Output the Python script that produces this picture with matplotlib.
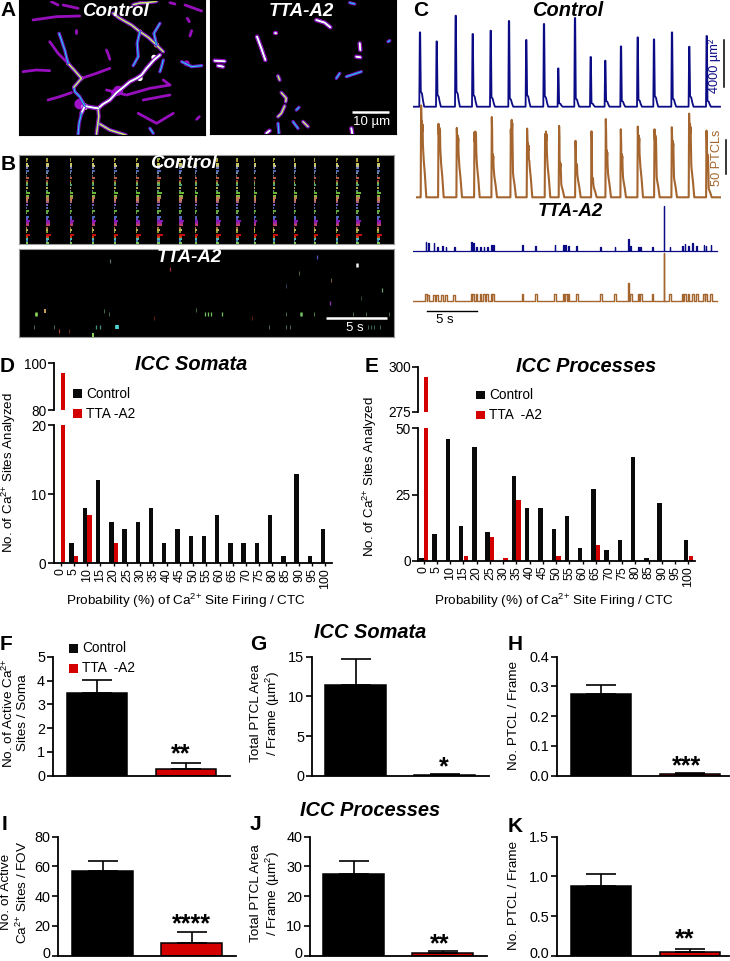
import matplotlib
matplotlib.use("Agg")
import matplotlib.pyplot as plt
from matplotlib.transforms import ScaledTranslation
import numpy as np

plt.rcParams['font.family'] = ['Liberation Sans', 'DejaVu Sans']
plt.rcParams['mathtext.fontset'] = 'custom'
plt.rcParams['mathtext.rm'] = 'Liberation Sans'
plt.rcParams['mathtext.default'] = 'regular'

W, H = 730, 961
BLUE = '#0b0b85'
BROWN = '#a5652f'
RED = '#d40000'

# panel C, control (seconds, um2 and particle counts)
blue_t = [0.7, 2.37, 4.27, 5.97, 7.77, 9.6, 11.33, 13.1, 14.53, 16.2, 17.77, 19.23, 20.8, 22.47, 24.1, 25.9, 27.63, 29.37]
blue_h = [6315, 5550, 7735, 6180, 6460, 7285, 5670, 7030, 3255, 7540, 4225, 3910, 5125, 5890, 5720, 6315, 5100, 6010]
blue_s = [1300, 1000, 1300, 1000, 800, 700, 1000, 900, 300, 700, 300, 500, 500, 600, 900, 700, 900, 500]
brown_t = [0.83, 2.57, 4.4, 6.17, 7.9, 9.8, 11.43, 13.23, 14.63, 16.27, 17.87, 19.3, 20.8, 22.5, 24.17, 25.9, 27.63, 29.37]
brown_h = [135, 108, 102, 96, 118, 100, 101, 93, 105, 83, 97, 115, 100, 104, 100, 103, 123, 98]
brown_m1 = [97, 89, 79, 84, 55, 99, 69, 84, 45, 43, 25, 60, 55, 79, 79, 72, 94, 55]
brown_m2 = [55, 50, 45, 45, 30, 30, 45, 45, 16, 25, 13, 30, 25, 45, 25, 25, 40, 11]

# panel C, TTA-A2
tta_t = [1.3, 1.53, 2.1, 2.43, 2.93, 3.3, 4.13, 5.87, 6.03, 6.37, 6.77, 7.1, 7.43, 7.87, 8.03, 10.93, 12.27, 14.2, 15.03,
         15.27, 15.53, 16.37, 18.77, 20.2, 21.53, 21.77, 22.53, 22.77, 23.93, 25.1, 25.7, 26.93, 27.2, 27.53, 27.97, 28.37,
         29.1, 29.3, 29.8]
tta_blue = [765, 623, 623, 340, 397, 283, 340, 708, 623, 340, 340, 340, 340, 482, 482, 482, 425, 482, 482,
            482, 397, 397, 340, 340, 992, 397, 340, 340, 340, 3825, 340, 397, 567, 397, 623, 397,
            482, 397, 482]
tta_brown = [10, 9, 9, 9, 9, 9, 9, 10, 10, 10, 10, 10, 10, 10, 10, 10, 10, 10, 10,
             10, 10, 10, 10, 10, 27, 10, 10, 10, 10, 71, 10, 10, 10, 10, 10, 10,
             10, 10, 10]

# histograms D and E
prob_labels = ['0', '5', '10', '15', '20', '25', '30', '35', '40', '45', '50', '55', '60', '65', '70', '75', '80', '85', '90', '95', '100']
d_control = [0, 3, 8, 12, 6, 5, 6, 8, 3, 5, 4, 4, 7, 3, 3, 3, 7, 1, 13, 1, 5]
d_tta = [96, 1, 7, 0, 3, 0, 0, 0, 0, 0, 0, 0, 0, 0, 0, 0, 0, 0, 0, 0, 0]
e_control = [1, 10, 46, 13, 43, 11, 0, 32, 20, 20, 12, 17, 5, 27, 4, 8, 39, 1, 22, 0, 8]
e_tta = [294, 0, 0, 2, 0, 9, 1, 23, 0, 0, 2, 0, 0, 6, 0, 0, 0, 0, 0, 0, 2]

# bar panels F-K: control, tta means and error tops
f_vals, f_err = [3.46, 0.3], [0.55, 0.25]
g_vals, g_err = [11.4, 0.12], [3.26, 0.08]
h_vals, h_err = [0.273, 0.005], [0.031, 0.004]
i_vals, i_err = [56.9, 8.7], [7.0, 7.0]
j_vals, j_err = [27.6, 0.75], [4.3, 0.7]
k_vals, k_err = [0.878, 0.05], [0.147, 0.04]

a_control = [
    (2, [340, 355, 372, 395, 420, 445, 470, 490], [40, 52, 62, 75, 95, 112, 135, 155]),
    (2, [400, 420, 440, 470], [14, 9, 8, 4]),
    (1, [470, 462, 480], [135, 100, 70]),
    (1, [420, 412, 415, 400], [95, 130, 170, 197]),
    (3, [480, 462, 440, 425, 410, 390, 370, 350, 330, 310, 295], [165, 180, 205, 225, 235, 245, 262, 278, 300, 312, 325]),
    (2, [295, 297, 293, 290], [325, 350, 380, 403]),
    (1, [490, 485, 480], [180, 200, 215]),
    (3, [295, 275, 255, 245], [325, 322, 318, 340]),
    (1, [245, 238, 235], [340, 370, 403]),
    (1, [255, 240, 225, 222], [318, 290, 275, 262]),
    (2, [222, 245, 225, 205], [262, 235, 212, 190]),
    (1, [205, 195, 185, 178], [190, 150, 120, 100]),
    (0, [245, 290, 330], [235, 220, 205]),
    (0, [70, 110, 150], [215, 210, 212]),
    (0, [205, 175, 150], [190, 160, 125]),
    (0, [320, 326, 330], [150, 165, 178]),
    (1, [545, 575, 605], [185, 200, 197]),
    (2, [300, 330, 378], [372, 390, 405]),
    (0, [145, 180, 215], [300, 290, 278]),
    (0, [320, 380, 450, 510], [270, 285, 265, 255]),
    (0, [415, 470, 520], [340, 370, 340]),
    (0, [100, 170, 240], [60, 50, 48]),
    (0, [155, 175], [5, 15]),
    (0, [190, 235], [15, 25]),
    (0, [510, 525], [8, 12]),
    (0, [555, 605], [15, 33]),
    (0, [562, 568], [55, 65]),
    (0, [570, 575], [108, 92]),
    (0, [590, 598], [358, 350]),
    (0, [490, 510], [240, 255]),
    (0, [228, 228], [90, 98]),
    (1, [450, 460], [385, 400]),
    (0, [430, 510], [300, 285]),
]
a_tta = [
    (3, [772, 785, 797], [110, 145, 180]),
    (3, [950, 975, 992], [60, 68, 82]),
    (3, [645, 675], [182, 184]),
    (3, [655, 670], [197, 200]),
    (3, [825, 830], [98, 98]),
    (3, [1080, 1082], [130, 150]),
    (3, [1070, 1082], [170, 172]),
    (2, [835, 840], [228, 240]),
    (2, [845, 860, 858], [278, 295, 305]),
    (2, [855, 845, 835], [318, 340, 350]),
    (1, [890, 898], [330, 322]),
    (1, [1010, 1020], [235, 220]),
    (1, [1040, 1085], [230, 215]),
    (1, [880, 895], [365, 385]),
    (2, [910, 925], [365, 380]),
    (3, [800, 810], [400, 392]),
    (3, [1055, 1058], [385, 402]),
    (1, [1165, 1170], [125, 122]),
    (1, [835, 838], [370, 402]),
    (1, [1050, 1065], [8, 12]),
]
# bright and purple blobs in the control micrograph
blob_x = [355, 240, 345, 470, 420, 205, 245, 255, 295, 462, 420, 560]
blob_y = [272, 312, 278, 135, 95, 190, 235, 320, 325, 172, 235, 190]
blob_s = [50, 60, 30, 14, 10, 9, 10, 24, 10, 14, 16, 18]
blob_c = ['#a010c8', '#a010c8', '#a010c8', '#e0e060', '#f0b060', '#f0b060', '#e0e060', '#ffffff', '#ffffff', '#ffffff', '#ffffff', '#a010c8']

# rasters in B
burst_x = [82, 143, 213, 279, 345, 412, 476, 541, 590, 653, 712, 765, 822, 885, 945, 1012, 1072, 1136]
burst_gain = [1.0, 1.0, 1.0, 1.1, 1.1, 1.1, 1.3, 1.3, 0.7, 1.1, 1.2, 0.8, 1.2, 1.0, 1.0, 1.0, 1.3, 1.0]
row_y = [477, 484, 491, 497, 505, 512, 520, 527, 535, 542, 548, 555, 565, 572, 580, 587, 593, 600, 606, 615, 624, 632, 640, 650,
         657, 664, 670, 676, 683, 690, 697, 705, 711, 716, 722, 729]
row_c = ['#b6d850', '#d8b040', '#f0f070', '#f0e8a0', '#8090e0', '#5a80d8', '#88a8c0', '#607090', '#e07050', '#c05040', '#a0d050',
         '#60c090', '#d8d060', '#70b090', '#80e040', '#a0e050', '#f09070', '#e8a060', '#d070a0', '#9070e0', '#5a80d8', '#70d040',
         '#80c070', '#6080e0', '#8060e0', '#a020e0', '#c030c0', '#e05080', '#d08040', '#e0e060', '#a0c040', '#f01010', '#f05010',
         '#60e0e0', '#5090d0', '#90f060']
row_w = [5, 4, 7, 8, 6, 8, 4, 3, 8, 5, 5, 6, 5, 4, 11, 9, 9, 7, 7, 5, 4, 8, 4, 8, 6, 12, 10, 10, 4, 6, 4, 13, 7, 7, 5, 7]
raster_x = [330, 107, 134, 313, 327, 103, 163, 177, 208, 278, 287, 300, 352, 464, 512, 588, 617, 625, 635, 668, 757, 808, 858, 870,
            858, 858, 898, 905, 945, 952, 995, 993, 1072, 1085, 1148, 1060, 1100, 1168, 1105, 1115, 1125, 1142]
raster_y = [783, 942, 932, 932, 942, 980, 980, 993, 993, 1005, 980, 980, 980, 955, 807, 930, 942, 942, 942, 942, 955, 980, 980, 980,
            942, 857, 820, 942, 942, 770, 840, 910, 795, 895, 870, 942, 942, 942, 980, 980, 980, 980]
raster_c = ['#607060', '#90e060', '#d0a060', '#70a070', '#70a070', '#70a090', '#70a090', '#a04030', '#a04030', '#90e060', '#409080',
            '#409080', '#50d0d0', '#a03020', '#a03040', '#70a070', '#70c060', '#70c060', '#70c060', '#70c060', '#a03020', '#70a090',
            '#70a090', '#70a090', '#70a070', '#5060a0', '#80a070', '#70c060', '#70c060', '#5050b0', '#c0a060', '#9030c0', '#f0f0f0',
            '#507050', '#70a070', '#70a070', '#70a070', '#70a070', '#60a090', '#60a090', '#60a090', '#60a090']
raster_w = [2, 4, 3, 1, 1, 1, 1, 2, 1, 3, 2, 2, 6, 1, 2, 1, 2, 2, 2, 2, 1, 1, 1, 1, 1, 1, 1, 4, 1, 2, 1, 2, 4, 1, 2, 1, 1, 1, 1, 1, 1, 1]

fig = plt.figure(figsize=(W / 100, H / 100), dpi=100, facecolor='white')


def px_axes(x0, y0, x1, y1, **kw):
    return fig.add_axes([x0 / W, 1 - y1 / H, (x1 - x0) / W, (y1 - y0) / H], **kw)


def image_panel(x0, y0, x1, y1, zx0, zy0, zx1, zy1, edge='black'):
    ax = px_axes(x0, y0, x1, y1, facecolor='black')
    ax.set_xlim(zx0, zx1)
    ax.set_ylim(zy1, zy0)
    ax.set_xticks([])
    ax.set_yticks([])
    for s in ax.spines.values():
        s.set_color(edge)
        s.set_linewidth(0.8)
    return ax


def draw_branches(ax, branches):
    for level, xs, ys in branches:
        ax.plot(xs, ys, color='#a010c8', lw=2.0 + 0.4 * level, solid_capstyle='round', alpha=0.95)
    for level, xs, ys in branches:
        if level >= 1:
            ax.plot(xs, ys, color='#2040e0', lw=1.5, solid_capstyle='round')
            ax.plot(xs, ys, color='#40d0e0', lw=0.7, solid_capstyle='round')
        if level >= 2:
            ax.plot(xs, ys, color='#e0e060', lw=1.0, solid_capstyle='round')
        if level >= 3:
            ax.plot(xs, ys, color='#ffffff', lw=1.2, solid_capstyle='round')


def trace_axes(top, bottom, base, per_px):
    ax = px_axes(413, top, 721, bottom)
    ax.set_xlim(0, 30.8)
    ax.set_ylim(-(bottom - base) * per_px, (base - top) * per_px)
    ax.axis('off')
    ax.patch.set_alpha(0)
    return ax


def blue_wave(ts, hs, ss):
    x, y = [0.0], [0.0]
    for t, h, s in zip(ts, hs, ss):
        x += [t - 0.07, t - 0.02, t + 0.02, t + 0.08, t + 0.2, t + 0.3, t + 0.42]
        y += [0, h, h, s, s * 0.85, s * 0.4, 0]
    x.append(30.7)
    y.append(0)
    return x, y


def brown_wave(ts, hs, m1, m2):
    x, y = [0.4], [0.0]
    for t, h, a, b in zip(ts, hs, m1, m2):
        x += [t - 0.06, t - 0.02, t + 0.01, t + 0.04, t + 0.07, t + 0.1, t + 0.13, t + 0.16, t + 0.2, t + 0.24, t + 0.36, t + 0.5]
        y += [0, h, h * 0.85, a * 1.05, a * 1.15, a, a * 1.1, a * 0.8, b * 1.2, b, b * 0.6, 0]
    x.append(30.7)
    y.append(0)
    return x, y


def tta_wave(ts, hs, narrow, wide, tall):
    x, y = [0.0], [0.0]
    for t, h in zip(ts, hs):
        half = narrow if h >= tall else wide
        x += [t - half, t - half, t + half, t + half]
        y += [0, h, h, 0]
    x.append(30.4)
    y.append(0)
    return x, y


def histogram(x0, x1, base, low_top, up_bot, up_top, ylow, yup, xleft, ctrl, tta, low_ticks, up_ticks):
    up = px_axes(x0, up_top, x1, up_bot)
    low = px_axes(x0, low_top, x1, base)
    idx = np.arange(len(ctrl))
    for ax in (up, low):
        ax.bar(idx - 0.175, ctrl, 0.33, color='#0a0a0a')
        ax.bar(idx + 0.175, tta, 0.33, color=RED)
        ax.set_xlim(xleft, 20.5)
        ax.patch.set_alpha(0)
        for s in ('top', 'right'):
            ax.spines[s].set_visible(False)
        ax.spines['left'].set_linewidth(1.3)
        ax.tick_params(axis='y', length=4.5, width=1.2, labelsize=9.8, pad=1)
    up.set_ylim(*yup)
    up.spines['bottom'].set_visible(False)
    up.set_xticks([])
    up.set_yticks(up_ticks)
    low.set_ylim(*ylow)
    low.set_yticks(low_ticks)
    low.spines['bottom'].set_linewidth(1.3)
    low.set_xticks(idx)
    low.set_xticklabels(prob_labels, rotation=90, fontsize=8.9)
    low.tick_params(axis='x', length=2.5, width=1, pad=1)


def bar_panel(x0, x1, top, base, ymax, yticks, fmt, left_center, vals, errs):
    ax = px_axes(x0, top, x1, base)
    ax.set_xlim((x0 - left_center) / 89, (x1 - left_center) / 89)
    ax.set_ylim(0, ymax)
    ax.bar([0, 1], vals, 0.68, color=['black', RED], edgecolor='black', linewidth=1.1)
    ax.errorbar([0, 1], vals, yerr=[[0, 0], errs], fmt='none', ecolor='black', elinewidth=1.2, capsize=11, capthick=1.2)
    ax.set_xticks([])
    ax.set_yticks(yticks)
    ax.set_yticklabels([fmt % t for t in yticks])
    ax.tick_params(axis='y', length=4.5, width=1.2, labelsize=10.4, pad=1)
    for s in ('top', 'right'):
        ax.spines[s].set_visible(False)
    ax.spines['left'].set_linewidth(1.3)
    ax.spines['bottom'].set_linewidth(1.3)
    ax.patch.set_alpha(0)
    return ax


def lift_zero_label(ax, pts):
    # the bottom row sits on the picture edge, nudge its 0 up so it stays inside
    label = ax.get_yticklabels()[0]
    label.set_transform(label.get_transform() + ScaledTranslation(0, pts / 72, fig.dpi_scale_trans))


# A
ax_a1 = image_panel(19, 0, 205, 135, 58, 0, 615, 405)
draw_branches(ax_a1, a_control)
ax_a1.scatter(blob_x, blob_y, s=blob_s, c=blob_c, linewidths=0, zorder=1.5)
ax_a2 = image_panel(210, 0, 396, 134, 631, 0, 1189, 402)
draw_branches(ax_a2, a_tta)

# B
ax_b1 = image_panel(19, 154.7, 394, 243.7, 57, 464, 1182, 731, edge='#999999')
for bx, gain in zip(burst_x, burst_gain):
    for ry, rc, rw in zip(row_y, row_c, row_w):
        ax_b1.plot([bx - 4, bx - 4 + rw * gain], [ry, ry], color=rc, lw=1.4, alpha=0.85, solid_capstyle='butt')
ax_b2 = image_panel(19, 248.7, 394, 337.3, 57, 746, 1184, 1012, edge='#999999')
for rx, ry, rc, rw in zip(raster_x, raster_y, raster_c, raster_w):
    ax_b2.plot([rx, rx], [ry - 6, ry + 6], color=rc, lw=rw * 0.45, solid_capstyle='butt')

# C
ax = trace_axes(10, 110, 106.7, 85)
ax.plot(*blue_wave(blue_t, blue_h, blue_s), color=BLUE, lw=1.3)
ax = trace_axes(100, 200, 197.3, 1.47)
ax.plot(*brown_wave(brown_t, brown_h, brown_m1, brown_m2), color=BROWN, lw=1.5)
ax = trace_axes(200, 255, 250.7, 85)
ax.plot(*tta_wave(tta_t, tta_blue, 0.03, 0.04, 900), color=BLUE, lw=0.9)
ax = trace_axes(245, 305, 301, 1.47)
ax.plot(*tta_wave(tta_t, tta_brown, 0.03, 0.08, 20), color=BROWN, lw=1.0)

# D, E
histogram(54, 332, 563.3, 425.3, 410, 363.3, (0, 20), (80, 100), -0.507, d_control, d_tta, [0, 10, 20], [80, 100])
histogram(418.3, 695, 561, 428.3, 411.7, 366.7, (0, 50), (275, 300), -0.41, e_control, e_tta, [0, 25, 50], [275, 300])

# F-K
bar_panel(52.7, 230, 656.7, 775.7, 5, [0, 1, 2, 3, 4, 5], '%d', 97, f_vals, f_err)
bar_panel(311.7, 489, 656.7, 775.7, 15, [0, 5, 10, 15], '%d', 355.5, g_vals, g_err)
bar_panel(556.7, 729, 656.7, 775.7, 0.4, [0, 0.1, 0.2, 0.3, 0.4], '%.1f', 601, h_vals, h_err)
ax_i = bar_panel(58, 236, 836.7, 955.7, 80, [0, 20, 40, 60, 80], '%d', 102.7, i_vals, i_err)
ax_j = bar_panel(310, 487, 836.7, 955.7, 40, [0, 10, 20, 30, 40], '%d', 353.7, j_vals, j_err)
ax_k = bar_panel(556.7, 729, 836.7, 955.7, 1.5, [0, 0.5, 1.0, 1.5], '%.1f', 601, k_vals, k_err)
for bottom_ax in (ax_i, ax_j, ax_k):
    lift_zero_label(bottom_ax, 2.5)

# overlay in figure pixels for text, legends and scale bars
ov = px_axes(0, 0, W, H)
ov.set_xlim(0, W)
ov.set_ylim(H, 0)
ov.axis('off')
ov.patch.set_alpha(0)


def txt(x, y, s, size=9.8, color='black', ha='center', rot=0, weight='normal', style='normal', lsp=1.15):
    ov.text(x, y, s, fontsize=size, color=color, ha=ha, va='center', rotation=rot, fontweight=weight,
            fontstyle=style, linespacing=lsp, rotation_mode='anchor' if rot == 0 else 'default', multialignment='center')


def head(x, y, s, size=14.4, color='black'):
    txt(x, y, s, size=size, color=color, weight='bold', style='italic')


def legend(sx, tx, y1, y2, s2, sq=8.5):
    ov.fill_between([sx, sx + sq], y1 - sq / 2, y1 + sq / 2, color='#0a0a0a', lw=0)
    ov.fill_between([sx, sx + sq], y2 - sq / 2, y2 + sq / 2, color=RED, lw=0)
    txt(tx, y1, 'Control', ha='left')
    txt(tx, y2, s2, ha='left')


for letter, lx, ly in [('A', 0, 11), ('C', 413, 10), ('B', 1, 164), ('D', 0, 366), ('E', 365, 367), ('F', 0, 644), ('G', 250, 644),
                       ('H', 508, 645), ('I', 2, 825), ('J', 250, 825), ('K', 508, 826)]:
    txt(lx, ly, letter, size=15, weight='bold', ha='left')

head(115, 12, 'Control', 13.5, 'white')
head(301, 12, 'TTA-A2', 13.5, 'white')
head(183, 164, 'Control', 13.5, 'white')
head(189, 258, 'TTA-A2', 13.5, 'white')
ov.plot([352, 389], [111.5, 111.5], color='white', lw=1.8, solid_capstyle='butt')
txt(372, 122.5, '10 µm', size=9.5, color='white')
ov.plot([326, 387], [317.5, 317.5], color='white', lw=1.8, solid_capstyle='butt')
txt(355, 328, '5 s', size=9.5, color='white')

head(568, 10, 'Control')
head(570, 212, 'TTA-A2', 13.5)
ov.plot([724, 724], [40, 87], color='black', lw=1.1)
txt(715, 66, '4000 µm²', size=9.2, color=BLUE, rot=90)
ov.plot([726, 726], [140, 174], color='black', lw=1.1)
txt(717, 158, '50 PTCLs', size=9.2, color=BROWN, rot=90)
ov.plot([427, 477], [310.7, 310.7], color='black', lw=1.0)
txt(445, 320, '5 s', size=9.5)

head(190.7, 365, 'ICC Somata')
head(586, 366, 'ICC Processes')
head(370, 633, 'ICC Somata')
head(370, 810, 'ICC Processes')

legend(73, 86, 393.7, 413.5, 'TTA -A2')
legend(476, 489, 395, 415, 'TTA  -A2')
legend(69, 82, 648.5, 668.5, 'TTA  -A2')

prob_text = 'Probability (%) of Ca$^{2{+}}$ Site Firing / CTC'
txt(186, 600.5, prob_text, size=9.7)
txt(553.5, 600.5, prob_text, size=9.7)
txt(9, 473, 'No. of Ca$^{2{+}}$ Sites Analyzed', size=9.6, rot=90)
txt(370, 477, 'No. of Ca$^{2{+}}$ Sites Analyzed', size=9.6, rot=90)

txt(15, 713, 'No. of Active Ca$^{2{+}}$\nSites / Soma', size=9.7, rot=90)
txt(266, 713, 'Total PTCL Area\n/ Frame (µm$^{2}$)', size=9.7, rot=90)
txt(514, 716, 'No. PTCL / Frame', size=9.7, rot=90)
txt(15, 892, 'No. of Active\nCa$^{2{+}}$ Sites / FOV', size=9.7, rot=90)
txt(266, 893, 'Total PTCL Area\n/ Frame (µm$^{2}$)', size=9.7, rot=90)
txt(514, 895, 'No. PTCL / Frame', size=9.7, rot=90)

for sx, sy, s in [(181, 754, '**'), (444, 767, '*'), (687, 766, '***'), (191, 924, '****'), (440, 944, '**'), (685, 939, '**')]:
    txt(sx, sy, s, size=18, weight='bold')

fig.savefig('out.png', dpi=100)
